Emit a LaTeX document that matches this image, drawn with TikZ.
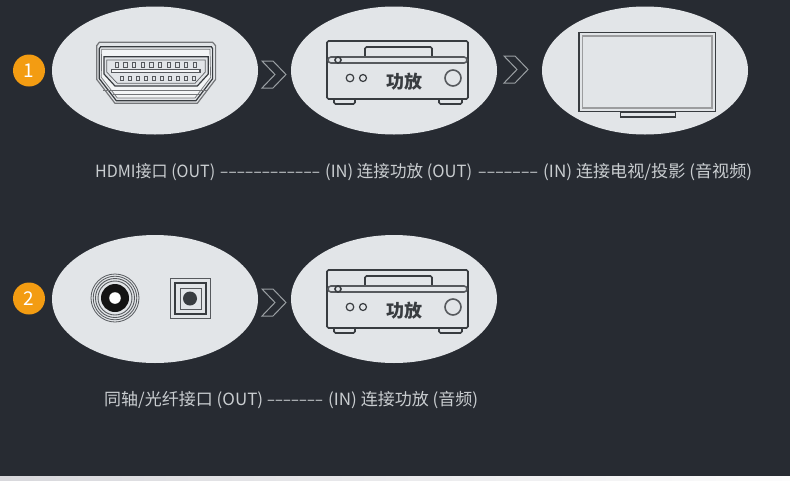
\documentclass[tikz,border=0pt]{standalone}
\usetikzlibrary{shapes.geometric}
\usepackage{fontspec}
\setmainfont{Noto Sans CJK SC}
\definecolor{bg}{HTML}{272B32}
\definecolor{disccol}{HTML}{E2E5E8}
\definecolor{ink}{HTML}{383C40}
\definecolor{chev}{HTML}{9A9FA3}
\definecolor{lbl}{HTML}{C9CDD0}
\definecolor{badgecol}{HTML}{F39C12}
\definecolor{strip}{HTML}{D8D8DC}
\tikzset{
  discnode/.style={ellipse,fill=disccol,minimum width=206pt,minimum height=128pt,inner sep=0pt},
  badgenode/.style={circle,fill=badgecol,minimum size=32pt,inner sep=0pt,text=white,font=\fontsize{19}{19}\selectfont},
  chevronline/.style={draw=chev,line width=1pt,line join=miter},
  captionnode/.style={text=lbl,font=\fontsize{16.8}{18}\selectfont,inner sep=0pt,anchor=west},
  heavyline/.style={draw=ink,line width=1.6pt},
}
\newcommand{\chevronat}[2]{%
  \draw[chevronline,shift={(#1,#2)}] (-12,-13.5) -- (-1,-13.5) -- (12,0) -- (-1,13.5) -- (-12,13.5) -- (1,0) -- cycle;}
\newcommand{\segtext}[2]{\makebox[#1pt][l]{\resizebox{#1pt}{\height}{#2}}}
\newcommand{\dashruntext}[2]{\resizebox{#1pt}{\height}{\foreach \n in {1,...,#2}{–\kern.15pt}}}
\newcommand{\amplifier}[2]{%
  \begin{scope}[shift={(#1,#2)}]
    \draw[heavyline,rounded corners=1.5pt] (-67,-29) rectangle (74,29);
    \draw[heavyline,rounded corners=1.5pt] (-29,-13) -- (-29,-23) -- (38,-23) -- (38,-13);
    \draw[heavyline,draw=ink!85,rounded corners=3pt] (-66,-13) rectangle (73,-7);
    \draw[heavyline,fill=disccol] (-56,-10) circle (3);
    \draw[heavyline,line width=1.2pt] (-44,8) circle (3.8);
    \draw[heavyline,line width=1.2pt] (-31,8) circle (3.5);
    \draw[heavyline,draw=ink!85] (59,8) circle (8);
    \draw[heavyline,rounded corners=1.5pt] (-60,29) -- (-60,34) -- (-39,34) -- (-39,29);
    \draw[heavyline,rounded corners=1.5pt] (45,29) -- (45,34) -- (68,34) -- (68,29);
    \node[text=ink,font=\fontsize{18}{18}\selectfont\bfseries,inner sep=0pt] at (10,11.5) {功放};
  \end{scope}}
\begin{document}
\begin{tikzpicture}[x=1pt,y=-1pt]
\useasboundingbox (0,0) rectangle (790,480);
\fill[bg] (0,0) rectangle (790,480);
\shade[left color=strip,right color=white!92!strip] (0,476) rectangle (790,480);

% discs
\node[discnode] (d1) at (155,70.5) {};
\node[discnode] (d2) at (394,70.5) {};
\node[discnode] (d3) at (645,70.5) {};
\node[discnode] (d4) at (155,299) {};
\node[discnode] (d5) at (394,299) {};

% badges
\node[badgenode] (b1) at (29,70.5) {1};
\node[badgenode] (b2) at (29,298.5) {2};

% chevrons
\chevronat{274}{74.5}
\chevronat{516}{69.5}
\chevronat{274}{302.5}

% HDMI port
\begin{scope}[x=.3333pt,y=-.3333pt]
  \draw[draw=ink!70,line width=1.2pt] (298,127) -- (638,127) -- (647,137) -- (647,238) -- (592,310) -- (345,310) -- (290,238) -- (290,137) -- cycle;
  \draw[draw=ink,line width=1.2pt] (302,140) -- (634,140) -- (638,146) -- (638,236) -- (588,302) -- (349,302) -- (298,236) -- (298,146) -- cycle;
  \draw[draw=ink!70,line width=.7pt,fill=white!60!disccol] (305,148) -- (630,148) -- (632,232) -- (585,294) -- (352,294) -- (304,232) -- cycle;
  \draw[draw=ink,line width=1.2pt,fill=disccol] (312,170) -- (625,170) -- (625,222) -- (592,258) -- (345,258) -- (312,222) -- cycle;
  \draw[draw=ink!80,line width=.7pt] (320,180) -- (616,180) -- (616,216) -- (585,250) -- (352,250) -- (320,216) -- cycle;
  \draw[draw=ink!85,line width=1.1pt,fill=white!70!disccol] (335,208) rectangle (600,218);
  \foreach \i in {0,...,9} {
    \draw[draw=ink!85,line width=.8pt] ({345+\i*26},188) rectangle ++(10,14);
    \draw[draw=ink!85,line width=.8pt] ({360+\i*24},228) rectangle ++(9,13);
  }
  \draw[draw=ink!70,line width=.8pt] (310,272) -- (625,272);
  \draw[draw=ink!70,line width=.8pt] (338,284) -- (600,284);
\end{scope}

% amplifiers
\amplifier{394}{70}
\amplifier{394}{299}

% TV
\draw[draw=ink,line width=1.8pt] (579,32.5) rectangle (715.5,111.5);
\draw[draw=ink!50,line width=1.7pt] (582.5,36) rectangle (712,108);
\draw[draw=ink,line width=1.2pt] (620.5,112) rectangle (675.5,117);

% coaxial
\begin{scope}[shift={(115,298)}]
  \draw[draw=ink!85,line width=.8pt] (0,0) circle (24);
  \draw[draw=ink!85,line width=.8pt] (0,0) circle (21.8);
  \draw[draw=ink!85,line width=.9pt] (0,0) circle (19.5);
  \draw[draw=ink!85,line width=.9pt] (0,0) circle (17);
  \fill[black!92] (0,0) circle (14);
  \fill[white] (0,0) circle (5.8);
\end{scope}

% optical
\begin{scope}[shift={(190.5,298.5)}]
  \draw[draw=ink!85,line width=.9pt] (-20.3,-20.3) rectangle (20.3,20.3);
  \draw[draw=ink,line width=1.5pt] (-15.5,-15.5) rectangle (15.5,15.5);
  \draw[draw=ink!85,line width=1pt] (-10.5,-10.5) rectangle (10.5,10.5);
  \fill[ink] (-.5,0) circle (7);
\end{scope}

% captions
\node[captionnode] (c1) at (95,172.5) {\makebox[125pt][l]{\segtext{120}{HDMI接口 (OUT)}}\makebox[105pt][l]{\dashruntext{100}{12}}\makebox[153pt][l]{\segtext{147}{(IN) 连接功放 (OUT)}}\makebox[65pt][l]{\dashruntext{60}{7}}\segtext{209}{(IN) 连接电视/投影 (音视频)}};
\node[captionnode] (c2) at (104,400) {\makebox[163pt][l]{\segtext{159}{同轴/光纤接口 (OUT)}}\makebox[61pt][l]{\dashruntext{56}{7}}\segtext{150}{(IN) 连接功放 (音频)}};
\end{tikzpicture}
\end{document}
